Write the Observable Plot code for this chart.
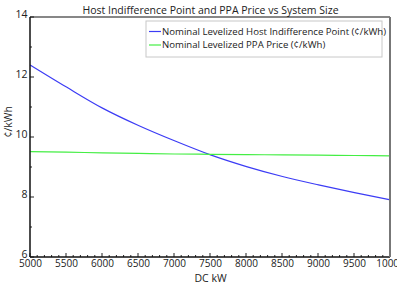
<!DOCTYPE html>
<html>
<head>
<meta charset="utf-8">
<script src="https://cdn.jsdelivr.net/npm/d3@7"></script>
<script src="https://cdn.jsdelivr.net/npm/@observablehq/plot@0.6"></script>
<style>
  html, body { margin: 0; padding: 0; background: white; }
  #chart { width: 397px; height: 288px; }
</style>
</head>
<body>
<div id="chart"></div>
<script>
const title = "Host Indifference Point and PPA Price vs System Size";
const xLabel = "DC kW";
const yLabel = "¢/kWh";
const seriesNames = ["Nominal Levelized Host Indifference Point (¢/kWh)", "Nominal Levelized PPA Price (¢/kWh)"];
const seriesColors = ["#3c3cf5", "#44ee44"];
const sizes = [5000, 5500, 6000, 6500, 7000, 7500, 8000, 8500, 9000, 9500, 10000];
const hostPoint = [12.41, 11.68, 10.98, 10.40, 9.89, 9.42, 9.03, 8.70, 8.42, 8.16, 7.92];
const ppaPrice = [9.53, 9.51, 9.49, 9.47, 9.45, 9.44, 9.43, 9.42, 9.41, 9.40, 9.39];
const xTicks = [5000, 5500, 6000, 6500, 7000, 7500, 8000, 8500, 9000, 9500, 10000];
const yTicks = [6, 8, 10, 12, 14];
const xMinorTicks = d3.range(5000, 10001, 100);
const yMinorTicks = [7, 9, 11, 13];

const data = sizes.flatMap((s, i) => [
  {size: s, value: hostPoint[i], series: seriesNames[0]},
  {size: s, value: ppaPrice[i], series: seriesNames[1]}
]);

const font = "'Open Sans', 'Noto Sans', sans-serif";

const plot = Plot.plot({
  width: 397,
  height: 288,
  marginLeft: 30,
  marginRight: 7,
  marginTop: 17,
  marginBottom: 31,
  style: {fontFamily: font, fontSize: "10px", background: "white", color: "#222"},
  x: {domain: [5000, 10000]},
  y: {domain: [6, 14]},
  color: {domain: seriesNames, range: seriesColors},
  marks: [
    Plot.axisX({ticks: xTicks, tickSize: 0, tickPadding: 2, label: null, tickFormat: d => String(d), fontSize: 10}),
    Plot.axisY({ticks: yTicks, tickSize: 0, tickPadding: 3, label: null, fontSize: 10.5, dy: -3}),
    Plot.line(data, {x: "size", y: "value", z: "series", stroke: "series", strokeWidth: 1.2, curve: "monotone-x"}),
    Plot.text([title], {frameAnchor: "top", dy: -11, fontSize: 10.5, fill: "#222"}),
    Plot.text([xLabel], {frameAnchor: "bottom", dy: 24, fontSize: 10.5, fill: "#222"}),
    Plot.text([yLabel], {frameAnchor: "left", dx: -22, rotate: -90, fontSize: 10.5, fill: "#222"})
  ]
});

document.getElementById("chart").appendChild(plot);

// Inward ticks, frame and legend, positioned via the plot's own scales
const svg = d3.select(plot);
const sx = plot.scale("x"), sy = plot.scale("y");
const X = v => sx.apply(v), Y = v => sy.apply(v);
const x0 = X(5000), x1 = X(10000), y0 = Y(6), y1 = Y(14);
const g = svg.append("g");

g.selectAll(".xmin").data(xMinorTicks).join("line")
  .attr("x1", X).attr("x2", X).attr("y1", y0).attr("y2", d => xTicks.includes(d) ? y0 - 4 : y0 - 2)
  .attr("stroke", "#222").attr("stroke-width", 1);
g.selectAll(".ymaj").data(yTicks.concat(yMinorTicks)).join("line")
  .attr("x1", x0).attr("x2", d => yTicks.includes(d) ? x0 + 4 : x0 + 2)
  .attr("y1", Y).attr("y2", Y).attr("stroke", "#222").attr("stroke-width", 1);

// frame
g.append("line").attr("x1", x0).attr("x2", x1).attr("y1", y1).attr("y2", y1).attr("stroke", "#111").attr("stroke-width", 1.2);
g.append("line").attr("x1", x0).attr("x2", x0).attr("y1", y1).attr("y2", y0).attr("stroke", "#111").attr("stroke-width", 1.5);
g.append("line").attr("x1", x0).attr("x2", x1).attr("y1", y0).attr("y2", y0).attr("stroke", "#111").attr("stroke-width", 1.5);
g.append("line").attr("x1", x1).attr("x2", x1).attr("y1", y1).attr("y2", y0).attr("stroke", "#777").attr("stroke-width", 2);

// legend
const lx = 146, ly = 21, lw = 236, lh = 36;
g.append("rect").attr("x", lx).attr("y", ly).attr("width", lw).attr("height", lh)
  .attr("fill", "white").attr("stroke", "#c8c8c8").attr("stroke-width", 1);
seriesNames.forEach((name, i) => {
  const yy = ly + 10.5 + i * 13.5;
  g.append("line").attr("x1", lx + 3).attr("x2", lx + 15).attr("y1", yy).attr("y2", yy)
    .attr("stroke", seriesColors[i]).attr("stroke-width", 1.2);
  g.append("text").attr("x", lx + 16).attr("y", yy).attr("dy", "0.35em")
    .attr("text-anchor", "start")
    .attr("font-family", font).attr("font-size", 9.6).attr("fill", "#222").text(name);
});
</script>
</body>
</html>
